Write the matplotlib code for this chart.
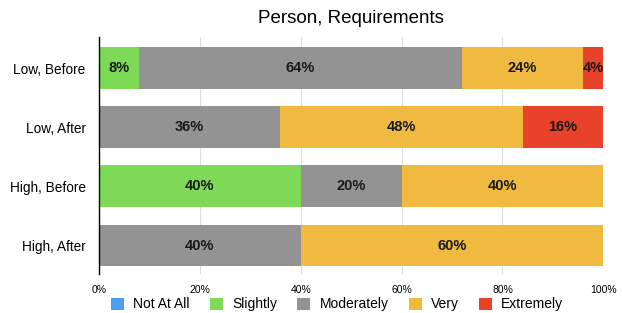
import matplotlib.pyplot as plt
import numpy as np

plt.rcParams['font.family'] = ['Liberation Sans', 'DejaVu Sans']

# share of responses (%)
groups = ['Low, Before', 'Low, After', 'High, Before', 'High, After']
levels = ['Not At All', 'Slightly', 'Moderately', 'Very', 'Extremely']
not_at_all = [0, 0, 0, 0]
slightly = [8, 0, 40, 0]
moderately = [64, 36, 20, 40]
very = [24, 48, 40, 60]
extremely = [4, 16, 0, 0]
colors = ['#4A9FF5', '#7ED957', '#939393', '#F0BA40', '#E8432A']

fig = plt.figure(figsize=(6.22, 3.13), dpi=100)
ax = fig.add_axes([0.159, 0.125, 0.811, 0.757])

y = np.arange(len(groups))
left = np.zeros(len(groups))
for name, vals, c in zip(levels, [not_at_all, slightly, moderately, very, extremely], colors):
    vals = np.array(vals, dtype=float)
    ax.barh(y, vals, left=left, height=0.71, color=c, label=name, zorder=2)
    for yi, l, v in zip(y, left, vals):
        if v > 0:
            ax.text(l + v / 2, yi, f'{v:.0f}%', ha='center', va='center',
                    fontsize=10.5, fontweight='bold', color='#1a1a1a', zorder=3)
    left += vals

ax.set_xlim(0, 100)
ax.set_ylim(len(groups) - 0.52, -0.53)
ax.set_yticks(y)
ax.set_yticklabels(groups, fontsize=9.8)
ax.set_xticks([0, 20, 40, 60, 80, 100])
ax.set_xticklabels(['0%', '20%', '40%', '60%', '80%', '100%'], fontsize=7.5)
ax.tick_params(axis='y', length=0, pad=9.5)
ax.tick_params(axis='x', length=0, pad=8)
ax.xaxis.grid(True, color='#dddddd', linewidth=0.8, zorder=0)
ax.set_axisbelow(True)
for s in ['top', 'right', 'bottom']:
    ax.spines[s].set_visible(False)
ax.spines['left'].set_color('black')
ax.spines['left'].set_linewidth(1)

ax.set_title('Person, Requirements', fontsize=13.5, pad=10)
fig.legend(loc='lower center', bbox_to_anchor=(0.542, -0.035), ncol=5, frameon=False,
           fontsize=10, handlelength=0.95, handleheight=0.95, columnspacing=1.45,
           handletextpad=0.65)

fig.savefig('out.png', dpi=100)
